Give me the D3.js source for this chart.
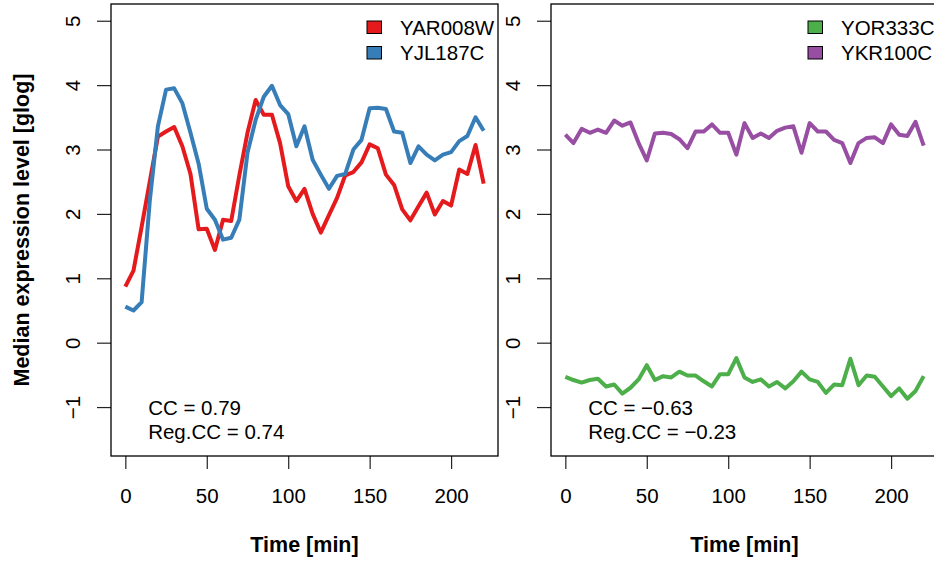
<!DOCTYPE html>
<html lang="en">
<head>
  <meta charset="UTF-8">
  <title></title>
  <script src="https://d3js.org/d3.v7.min.js"></script>
  <style>
    body { margin: 0; background: #fff; }
    svg text { font-family: "Liberation Sans", Arial, Helvetica, sans-serif; }
  </style>
</head>
<body>
  <svg width="934" height="565"></svg>
  <script>
    // Time points (min)
    const times = [0, 5, 10, 15, 20, 25, 30, 35, 40, 45, 50, 55, 60, 65, 70, 75, 80, 85, 90, 95, 100,
      105, 110, 115, 120, 125, 130, 135, 140, 145, 150, 155, 160, 165, 170, 175, 180, 185, 190, 195, 200,
      205, 210, 215, 220];

    // Left panel series
    const yar008w = [0.87, 1.12, 1.8, 2.5, 3.2, 3.28, 3.35, 3.05, 2.62, 1.76, 1.77, 1.44, 1.91, 1.89, 2.6,
      3.26, 3.77, 3.54, 3.54, 3.1, 2.43, 2.2, 2.39, 2.0, 1.71, 1.98, 2.25, 2.6, 2.65, 2.8, 3.08, 3.02, 2.61,
      2.45, 2.07, 1.9, 2.12, 2.33, 1.99, 2.2, 2.13, 2.69, 2.62, 3.07, 2.47];
    const yjl187c = [0.56, 0.5, 0.63, 2.2, 3.36, 3.93, 3.95, 3.72, 3.26, 2.78, 2.08, 1.91, 1.6, 1.63, 1.91,
      2.95, 3.46, 3.82, 3.99, 3.69, 3.55, 3.05, 3.36, 2.84, 2.61, 2.39, 2.59, 2.62, 3.0, 3.15, 3.64, 3.65, 3.63,
      3.28, 3.26, 2.79, 3.05, 2.92, 2.83, 2.92, 2.96, 3.13, 3.21, 3.5, 3.29];

    // Right panel series
    const yor333c = [-0.53, -0.58, -0.62, -0.58, -0.56, -0.68, -0.65, -0.79, -0.70, -0.57, -0.35, -0.58,
      -0.52, -0.54, -0.45, -0.51, -0.51, -0.60, -0.68, -0.49, -0.49, -0.24, -0.54, -0.61, -0.57, -0.68, -0.61,
      -0.71, -0.60, -0.45, -0.57, -0.61, -0.78, -0.65, -0.66, -0.25, -0.66, -0.51, -0.53, -0.68, -0.83, -0.71,
      -0.87, -0.75, -0.52];
    const ykr100c = [3.23, 3.1, 3.32, 3.26, 3.31, 3.26, 3.45, 3.37, 3.42, 3.1, 2.83, 3.25, 3.26, 3.24, 3.16,
      3.02, 3.28, 3.28, 3.39, 3.26, 3.26, 2.92, 3.41, 3.18, 3.25, 3.18, 3.29, 3.34, 3.36, 2.95, 3.41, 3.28, 3.28,
      3.15, 3.1, 2.79, 3.1, 3.18, 3.19, 3.1, 3.39, 3.23, 3.21, 3.43, 3.06];

    const xTicks = [0, 50, 100, 150, 200];
    const yTicks = [-1, 0, 1, 2, 3, 4, 5];

    const panels = [
      {left: 111, series: [{name: "YAR008W", values: yar008w, color: "#E41A1C"},
                           {name: "YJL187C", values: yjl187c, color: "#377EB8"}],
       stats: ["CC = 0.79", "Reg.CC = 0.74"], legendX: 367},
      {left: 551, series: [{name: "YOR333C", values: yor333c, color: "#4DAF4A"},
                           {name: "YKR100C", values: ykr100c, color: "#984EA3"}],
       stats: ["CC = \u22120.63", "Reg.CC = \u22120.23"], legendX: 808}
    ];

    const svg = d3.select("svg");
    const plotTop = 4, plotBottom = 456, panelW = 387;
    const fs = 20.5;

    const y = d3.scaleLinear().domain([-1.76, 5.26]).range([plotBottom, plotTop]);

    panels.forEach((p, pi) => {
      const x = d3.scaleLinear().domain([-8.8, 228.8]).range([p.left, p.left + panelW]);
      const g = svg.append("g");

      // y axis
      const ya = g.append("g")
        .attr("transform", `translate(${p.left},0)`)
        .call(d3.axisLeft(y).tickValues(yTicks).tickSize(14).tickFormat(d3.format("d")));
      ya.select(".domain").remove();
      ya.selectAll("line").attr("stroke", "#222").attr("stroke-width", 1.2);
      ya.selectAll("text")
        .attr("transform", "rotate(-90)")
        .attr("x", 0).attr("y", -31).attr("dy", null)
        .attr("text-anchor", "middle")
        .attr("font-size", fs).attr("fill", "#000");

      // x axis
      const xa = g.append("g")
        .attr("transform", `translate(0,${plotBottom})`)
        .call(d3.axisBottom(x).tickValues(xTicks).tickSize(13));
      xa.select(".domain").remove();
      xa.selectAll("line").attr("stroke", "#222").attr("stroke-width", 1.2);
      xa.selectAll("text").attr("y", 47).attr("dy", null)
        .attr("font-size", fs).attr("fill", "#000");

      svg.append("text")
        .attr("x", x(110)).attr("y", 552)
        .attr("text-anchor", "middle")
        .attr("font-size", 21.5).attr("font-weight", "bold")
        .text("Time [min]");

      // lines
      const line = d3.line()
        .x((d, i) => x(times[i]))
        .y(d => y(d));
      p.series.forEach(s => {
        g.append("path")
          .datum(s.values)
          .attr("fill", "none")
          .attr("stroke", s.color)
          .attr("stroke-width", 4)
          .attr("stroke-linejoin", "round")
          .attr("d", line);
      });

      // box
      g.append("rect")
        .attr("x", p.left).attr("y", plotTop)
        .attr("width", panelW).attr("height", plotBottom - plotTop)
        .attr("fill", "none").attr("stroke", "#000").attr("stroke-width", 1.3);

      // legend
      p.series.forEach((s, i) => {
        const ly = 21 + i * 25.5;
        g.append("rect")
          .attr("x", p.legendX).attr("y", ly)
          .attr("width", 14.5).attr("height", 12.5)
          .attr("fill", s.color).attr("stroke", "#000").attr("stroke-width", 1);
        g.append("text")
          .attr("x", p.legendX + 33).attr("y", ly + 13.5)
          .attr("font-size", fs)
          .text(s.name);
      });

      // stats
      p.stats.forEach((t, i) => {
        g.append("text")
          .attr("x", x(14)).attr("y", 415 + i * 23.5)
          .attr("font-size", fs)
          .text(t);
      });
    });

    // y axis title
    svg.append("text")
      .attr("transform", `translate(28.5,${y(1.75)}) rotate(-90)`)
      .attr("text-anchor", "middle")
      .attr("font-size", 21.5).attr("font-weight", "bold")
      .text("Median expression level [glog]");
  </script>
</body>
</html>
